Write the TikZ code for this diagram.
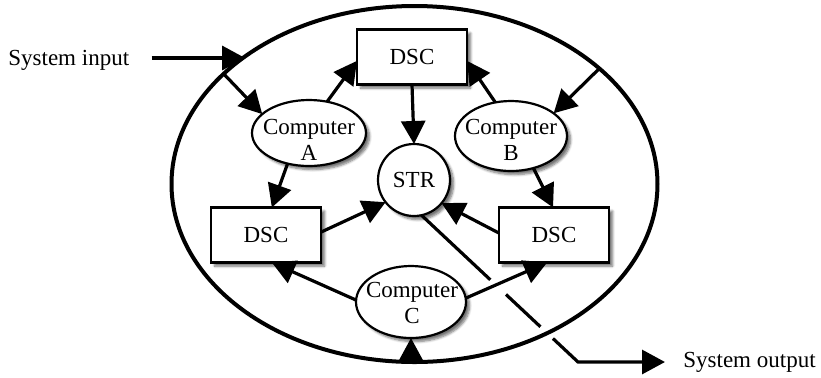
\documentclass[tikz,border=0pt]{standalone}
\usepackage{fontspec}
\setmainfont{Liberation Serif}
\usetikzlibrary{arrows.meta,shapes.geometric,calc,shadows.blur}

\begin{document}
\begin{tikzpicture}[x=0.5pt,y=-0.5pt,
  every node/.style={font=\fontsize{11.5}{13}\selectfont},
  softshadow/.style={blur shadow={shadow xshift=1.8pt,shadow yshift=-1.8pt,
      shadow blur steps=6,shadow blur radius=1.2pt,shadow opacity=55}},
  dscbox/.style={draw,line width=1.2pt,fill=white,minimum width=55pt,
      minimum height=27.5pt,inner sep=0pt,outer sep=0pt,softshadow},
  comp/.style={draw,ellipse,line width=1.1pt,fill=white,inner sep=0pt,
      outer sep=0pt,softshadow},
  strnode/.style={draw,circle,line width=1.1pt,fill=white,minimum size=36pt,
      inner sep=0pt,outer sep=0pt,softshadow},
  lbl/.style={align=center,inner sep=0pt},
  flow/.style={line width=1.6pt,-{Triangle[length=11.5pt,width=12pt]}},
  plain/.style={line width=1.6pt}]
\useasboundingbox (0,0) rectangle (821,377);

% system boundary
\node[draw,ellipse,line width=2pt,minimum width=243pt,minimum height=178pt,
      inner sep=0pt,outer sep=0pt] (sys) at (414.5,184) {};

% converters and the central unit
\node[dscbox] (dscT) at (412,57) {DSC};
\node[dscbox] (dscL) at (266,235) {DSC};
\node[dscbox] (dscR) at (554,235) {DSC};
\node[strnode] (str) at (414,180) {STR};

% computers
\node[comp,minimum width=57pt,minimum height=33pt] (compA) at (309,133) {};
\node[comp,minimum width=56pt,minimum height=35pt] (compB) at (511,136) {};
\node[comp,minimum width=55pt,minimum height=36pt] (compC) at (411,302) {};
\node[lbl] (compAtxt) at (309,140) {Computer\\A};
\node[lbl] (compBtxt) at (511,140) {Computer\\B};
\node[lbl] (compCtxt) at (412,303) {Computer\\C};

% external labels
\node[anchor=base west,inner sep=0pt] (input) at (8,65) {System input};
\node[anchor=base west,inner sep=0pt] (output) at (683,367) {System output};
\coordinate (inStart) at ([xshift=11pt,yshift=3.5pt]input.base east);
\coordinate (obend) at (578,362);

% input side
\draw[flow] (inStart) -- (sys.143.7 |- inStart);
\draw[flow] (sys.150) -- (compA.158);
\draw[flow] (sys.32) -- (compB.28);

% computers feed the converters
\draw[flow] (compA.60) -- (dscT.184);
\draw[flow] (compB.115) -- (dscT.-4);
\draw[flow] (compA.235) -- (dscL.78);
\draw[flow] (compB.-55) -- (dscR.92);
\draw[flow] (compC.178) -- (dscL.282);
\draw[flow] (compC.4) -- (dscR.256);
\draw[flow] (compC.south |- sys.south) -- (compC.south);

% converters feed the central unit
\draw[flow] (dscT.south) -- (str.north);
\draw[flow] (dscL.3) -- (str.218);
\draw[flow] (dscR.178) -- (str.320);

% output line, broken where it passes under other lines
\draw[plain] (str.-78) -- ($(str.-78)!0.44!(obend)$);
\draw[plain] ($(str.-78)!0.54!(obend)$) -- ($(str.-78)!0.76!(obend)$);
\draw[flow] ($(str.-78)!0.84!(obend)$) -- (obend)
  -- ([xshift=-9pt,yshift=2.5pt]output.base west);
\end{tikzpicture}
\end{document}
